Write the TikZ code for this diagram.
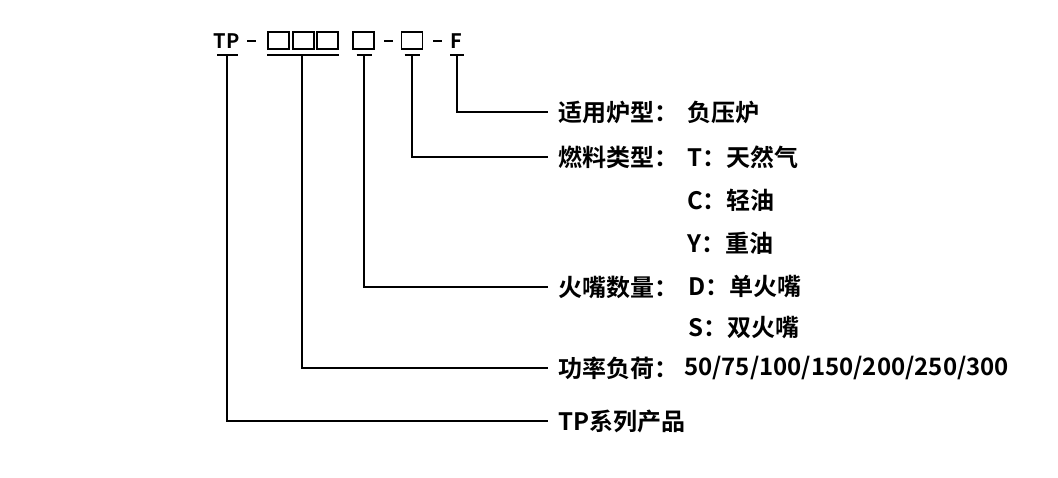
\documentclass[tikz,border=0pt]{standalone}
\usepackage{fontspec}
\setmainfont{Noto Sans CJK SC}[BoldFont=Noto Sans CJK SC Bold]
\begin{document}
\begin{tikzpicture}[x=1pt,y=-1pt,
  lab/.style={anchor=west, inner sep=0pt, font=\fontsize{24}{24}\selectfont\bfseries},
  toptext/.style={inner sep=0pt, font=\fontsize{20}{20}\selectfont\bfseries},
  dashmark/.style={fill=black, inner sep=0pt, minimum width=9pt, minimum height=2.4pt},
  cell/.style={draw, line width=1.5pt, minimum width=21pt, minimum height=17pt, inner sep=0pt},
  bar/.style={line width=1.8pt},
  conn/.style={line width=1.8pt}]
\useasboundingbox (0,0) rectangle (1058,477);
% code row
\node[toptext] (tp) at (226.5,41) {TP};
\node[dashmark] (d1) at (251,41) {};
\node[cell] (b1) at (278.5,40.5) {};
\node[cell] (b2) at (303.5,40.5) {};
\node[cell] (b3) at (327.5,40.5) {};
\node[cell] (b4) at (363.5,40.5) {};
\node[dashmark] (d2) at (388,41) {};
\node[cell] (b5) at (412,40.5) {};
\node[dashmark] (d3) at (437.5,41) {};
\node[toptext] (f) at (456.5,41) {F};
% bars
\coordinate (m1) at (227,55);
\coordinate (m2) at (302,55);
\coordinate (m3) at (364,55);
\coordinate (m4) at (412,55);
\coordinate (m5) at (457,55);
\draw[bar] ([xshift=-10pt]m1) -- ([xshift=11pt]m1);
\draw[bar] (b1.west |- m2) -- (b3.east |- m2);
\draw[bar] ([xshift=-7.5pt]m3) -- ([xshift=7.5pt]m3);
\draw[bar] ([xshift=-7.5pt]m4) -- ([xshift=7.5pt]m4);
\draw[bar] ([xshift=-7pt]m5) -- ([xshift=6.5pt]m5);
% labels
\node[lab] (k1) at (558,112) {适用炉型：};
\node[lab] (v1) at (687,112) {负压炉};
\node[lab] (k2) at (558,157) {燃料类型：};
\node[lab] (v2) at (687,157) {T：天然气};
\node[lab] (v3) at (687,200) {C：轻油};
\node[lab] (v4) at (687,243) {Y：重油};
\node[lab] (k3) at (558,287) {火嘴数量：};
\node[lab] (v5) at (688,287) {D：单火嘴};
\node[lab] (v6) at (688,328) {S：双火嘴};
\node[lab] (k4) at (558,368) {功率负荷：};
\node[lab] (v7) at (684,368) {50/75/100/150/200/250/300};
\node[lab] (k5) at (558,421) {TP系列产品};
% connectors
\draw[conn] (m5) |- ([xshift=-10pt]k1.west);
\draw[conn] (m4) |- ([xshift=-10pt]k2.west);
\draw[conn] (m3) |- ([xshift=-10pt]k3.west);
\draw[conn] (m2) |- ([xshift=-10pt]k4.west);
\draw[conn] (m1) |- ([xshift=-10pt]k5.west);
\end{tikzpicture}
\end{document}
